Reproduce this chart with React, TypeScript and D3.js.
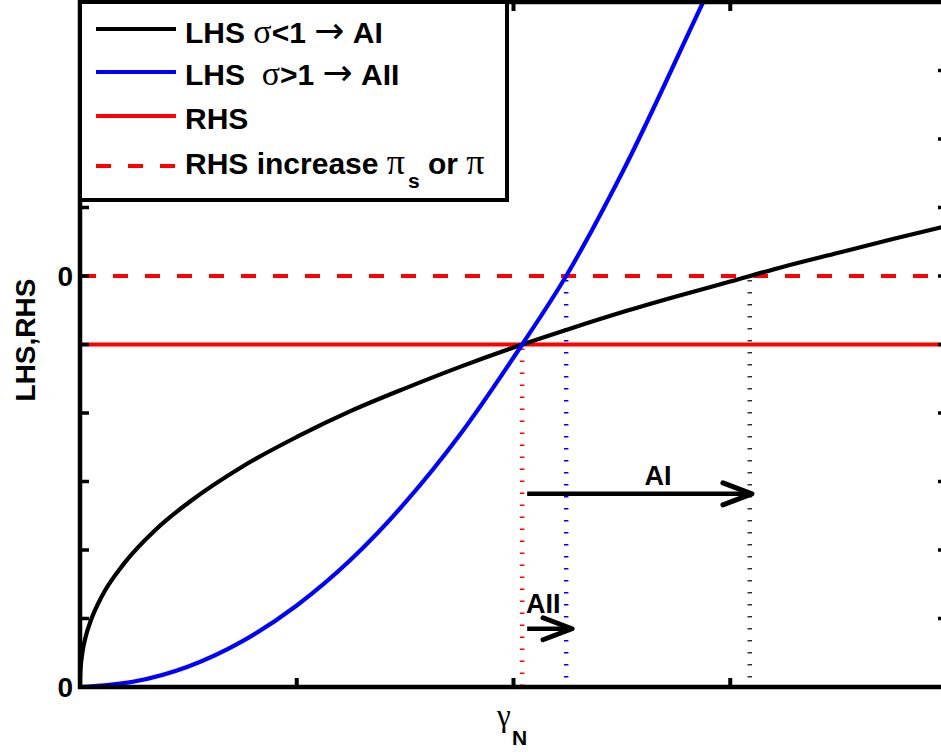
import React from 'react';
import * as d3 from 'd3';

// readings (x in gamma_N units, y in tick units)
const blackX = [0, 0.001, 0.004, 0.01, 0.025, 0.05, 0.1, 0.2, 0.35, 0.5, 0.75, 1.0, 1.25, 1.5, 1.75, 2.04, 2.25, 2.5, 2.75, 3.0, 3.25, 3.5, 3.75, 4.0];
const blackY = [0, 0.17, 0.32, 0.48, 0.72, 0.97, 1.32, 1.79, 2.3, 2.69, 3.22, 3.65, 4.03, 4.36, 4.67, 5.0, 5.22, 5.47, 5.7, 5.92, 6.14, 6.34, 6.54, 6.73];

const blueX = [0, 0.25, 0.5, 0.75, 1.0, 1.25, 1.5, 1.75, 2.04, 2.243, 2.5, 2.875, 2.95];
const blueY = [0, 0.08, 0.3, 0.67, 1.19, 1.86, 2.69, 3.67, 5.0, 6.0, 7.5, 10.0, 10.5];

const rhsLevel = 5;
const rhsRaised = 6;

// equilibrium gamma_N for each case
const eqNames = ['base', 'AII', 'AI'];
const eqX = [2.04, 2.243, 3.09];
const eqY = [5, 6, 6];
const eqColor = ['#ff0000', '#0000ff', '#333333'];

// shift arrows
const arrowNames = ['AI', 'AII'];
const arrowFrom = [2.063, 2.063];
const arrowTo = [3.1, 2.27];
const arrowY = [2.82, 0.85];

const xTicks = [0, 1, 2, 3, 4];
const yTicks = [0, 1, 2, 3, 4, 5, 6, 7, 8, 9, 10];
const yTickLabels = ['0', '', '', '', '', '', '0', '', '', '', ''];

const W = 941;
const H = 752;
const SANS = '"Liberation Sans", Arial, sans-serif';
const SERIF = '"Liberation Serif", "Times New Roman", serif';
const SYM = '"DejaVu Sans", sans-serif';

export default function App() {
  const x = d3.scaleLinear().domain([0, 4]).range([80, 947]);
  const y = d3.scaleLinear().domain([0, 10]).range([687, 2]);

  const line = d3.line<[number, number]>()
    .x(d => x(d[0]))
    .y(d => y(d[1]))
    .curve(d3.curveMonotoneX);

  const blackPts = blackX.map((v, i) => [v, blackY[i]] as [number, number]);
  const bluePts = blueX.map((v, i) => [v, blueY[i]] as [number, number]);

  const [x0, x1] = x.range();
  const [yb, yt] = y.range();

  return (
    <div style={{ position: 'absolute', left: 0, top: 0 }}>
      <svg width={W} height={H} style={{ display: 'block', background: '#fff' }}>
        <defs>
          <clipPath id="plot">
            <rect x={x0} y={yt} width={x1 - x0} height={yb - yt} />
          </clipPath>
        </defs>

        {/* vertical dotted guides */}
        {eqX.map((v, i) => (
          <line key={eqNames[i]} x1={x(v)} x2={x(v)} y1={y(eqY[i]) + 4} y2={yb}
            stroke={eqColor[i]} strokeWidth={4.5} strokeDasharray="1.4 10.6" />
        ))}

        {/* RHS lines */}
        <line x1={x0} x2={x1} y1={y(rhsLevel)} y2={y(rhsLevel)} stroke="#ff0000" strokeWidth={4} />
        <line x1={x0 + 1} x2={x1} y1={y(rhsRaised)} y2={y(rhsRaised)} stroke="#ff0000" strokeWidth={4}
          strokeDasharray="15 17" />

        {/* LHS curves */}
        <g clipPath="url(#plot)">
          <path d={line(blackPts) || ''} fill="none" stroke="#000" strokeWidth={4.2} />
          <path d={line(bluePts) || ''} fill="none" stroke="#0000ff" strokeWidth={4.2} />
        </g>

        {/* arrows */}
        {arrowNames.map((n, i) => {
          const xa = x(arrowFrom[i]);
          const xb = x(arrowTo[i]);
          const yy = y(arrowY[i]);
          return (
            <g key={n}>
              <line x1={xa} x2={xb - 2} y1={yy} y2={yy} stroke="#000" strokeWidth={4.5} />
              <path d={`M${xb - 29},${yy - 11} L${xb},${yy} L${xb - 29},${yy + 11}`}
                fill="none" stroke="#000" strokeWidth={5} strokeLinecap="round" strokeLinejoin="round" />
            </g>
          );
        })}
        <text x={658} y={485} textAnchor="middle" fontFamily={SANS} fontWeight="bold" fontSize={27}>AI</text>
        <text x={526} y={613} fontFamily={SANS} fontWeight="bold" fontSize={27}>AII</text>

        {/* axes box */}
        <rect x={x0} y={yt} width={x1 - x0} height={yb - yt} fill="none" stroke="#000" strokeWidth={4.5} />
        {xTicks.slice(1, -1).map(t => (
          <g key={'xt' + t}>
            <line x1={x(t)} x2={x(t)} y1={yb} y2={yb - 9} stroke="#000" strokeWidth={4} />
            <line x1={x(t)} x2={x(t)} y1={yt} y2={yt + 9} stroke="#000" strokeWidth={4} />
          </g>
        ))}
        {yTicks.slice(1, -1).map(t => (
          <g key={'yt' + t}>
            <line x1={x0} x2={x0 + 9} y1={y(t)} y2={y(t)} stroke="#000" strokeWidth={3.5} />
            <line x1={x1} x2={x1 - 9} y1={y(t)} y2={y(t)} stroke="#000" strokeWidth={3.5} />
          </g>
        ))}
        {yTicks.map((t, i) => yTickLabels[i] ? (
          <text key={'yl' + t} x={73} y={y(t)} dy="0.36em" textAnchor="end"
            fontFamily={SANS} fontWeight="bold" fontSize={28}>{yTickLabels[i]}</text>
        ) : null)}

        {/* axis labels */}
        <text transform="translate(35,340) rotate(-90)" textAnchor="middle"
          fontFamily={SANS} fontWeight="bold" fontSize={28}>LHS,RHS</text>
        <text x={497} y={726} fontFamily={SERIF} fontSize={31}>γ</text>
        <text x={512} y={745} fontFamily={SANS} fontWeight="bold" fontSize={21}>N</text>

        {/* legend */}
        <g>
          <rect x={80} y={2} width={427} height={198} fill="#fff" stroke="#000" strokeWidth={4} />
          <line x1={96} x2={176} y1={29} y2={29} stroke="#000" strokeWidth={4} />
          <line x1={96} x2={176} y1={72} y2={72} stroke="#0000ff" strokeWidth={4} />
          <line x1={96} x2={176} y1={116} y2={116} stroke="#ff0000" strokeWidth={4} />
          <line x1={96} x2={176} y1={166} y2={166} stroke="#ff0000" strokeWidth={4} strokeDasharray="15 17" />
          <g fontFamily={SANS} fontWeight="bold" fontSize={30}>
            <text x={185} y={43} xmlSpace="preserve" style={{ whiteSpace: 'pre' }}>
              <tspan>LHS </tspan>
              <tspan fontFamily={SERIF} fontWeight="normal" fontSize={34}>σ</tspan>
              <tspan>{'<1 '}</tspan>
              <tspan fontFamily={SYM} fontWeight="normal" fontSize={36}>→</tspan>
              <tspan> AI</tspan>
            </text>
            <text x={185} y={85} xmlSpace="preserve" style={{ whiteSpace: 'pre' }}>
              <tspan>{'LHS  '}</tspan>
              <tspan fontFamily={SERIF} fontWeight="normal" fontSize={34}>σ</tspan>
              <tspan>{'>1 '}</tspan>
              <tspan fontFamily={SYM} fontWeight="normal" fontSize={36}>→</tspan>
              <tspan> AII</tspan>
            </text>
            <text x={185} y={129}>RHS</text>
            <text x={185} y={174} xmlSpace="preserve" style={{ whiteSpace: 'pre' }}>
              <tspan>RHS increase </tspan>
              <tspan fontFamily={SERIF} fontWeight="normal" fontSize={36}>π</tspan>
              <tspan fontSize={21} dx={3} dy={14}>s</tspan>
              <tspan dy={-14}> or </tspan>
              <tspan fontFamily={SERIF} fontWeight="normal" fontSize={36}>π</tspan>
            </text>
          </g>
        </g>
      </svg>
    </div>
  );
}
